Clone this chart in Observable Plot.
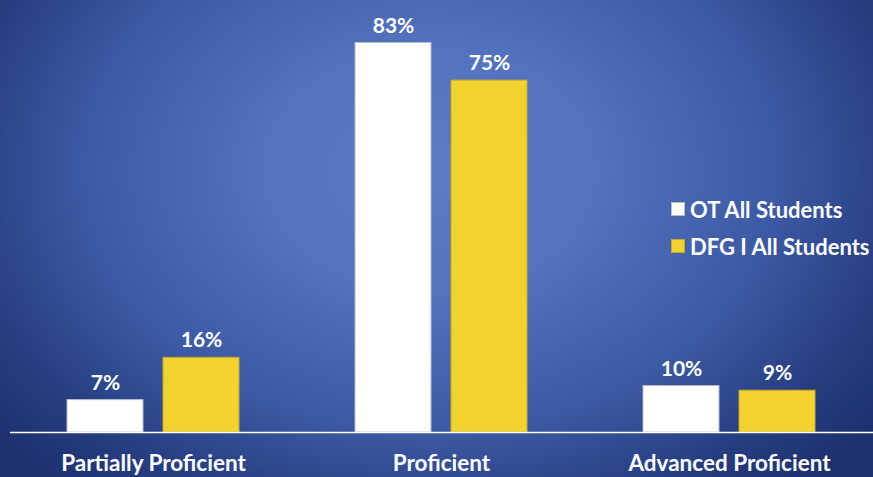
<!DOCTYPE html>
<html>
<head>
<meta charset="utf-8">
<script src="https://cdn.jsdelivr.net/npm/d3@7"></script>
<script src="https://cdn.jsdelivr.net/npm/@observablehq/plot@0.6"></script>
<style>
  html, body { margin: 0; padding: 0; }
  body { width: 873px; height: 477px; overflow: hidden; font-family: Lato, "Open Sans", sans-serif; }
  #wrap {
    position: relative; width: 873px; height: 477px;
    background: radial-gradient(ellipse 560px 420px at 430px 170px, #5c7cc6 0%, #5272bd 30%, #3c59a3 62%, #263d80 85%, #1d3170 100%);
  }
  #legend { position: absolute; left: 671px; top: 197px; color: #fff; font-weight: 700; font-size: 22px; }
  #legend .row { display: flex; align-items: center; height: 24px; margin-bottom: 13px; }
  #legend .sw { width: 14px; height: 14px; margin-right: 5px; box-sizing: border-box; }
</style>
</head>
<body>
<div id="wrap">
  <div id="chart"></div>
  <div id="legend"></div>
</div>
<script>
const categories = ["Partially Proficient", "Proficient", "Advanced Proficient"];
const seriesNames = ["OT All Students", "DFG I All Students"];
const otValues = [7, 83, 10];
const dfgValues = [16, 75, 9];
const seriesColors = ["#ffffff", "#f2d22f"];
const seriesStrokes = ["#b8bcc8", "#c7a82c"];

const data = [];
categories.forEach((c, i) => {
  data.push({category: c, series: seriesNames[0], value: otValues[i]});
  data.push({category: c, series: seriesNames[1], value: dfgValues[i]});
});

const chart = Plot.plot({
  width: 873,
  height: 477,
  marginLeft: 9,
  marginRight: 0,
  marginTop: 42,
  marginBottom: 45,
  style: {background: "transparent", fontFamily: "Lato, 'Open Sans', sans-serif", overflow: "visible"},
  fx: {domain: categories, padding: 0, label: null, axis: null},
  x: {domain: seriesNames, paddingInner: 0.2083, paddingOuter: 0.604, axis: null},
  y: {domain: [0, 83], axis: null},
  color: {domain: seriesNames, range: seriesColors},
  marks: [
    Plot.barY(data, {fx: "category", x: "series", y: "value", fill: "series",
      stroke: d => seriesStrokes[seriesNames.indexOf(d.series)], strokeWidth: 1, insetTop: 0.5, insetBottom: 0}),
    Plot.text(data, {fx: "category", x: "series", y: "value", text: d => d.value + "%",
      lineAnchor: "bottom", dy: -10, fill: "#fff", fontSize: 21, fontWeight: 700}),
    Plot.text(categories.map(c => ({category: c})), {fx: "category", frameAnchor: "bottom",
      text: "category", dy: 38, fill: "#fff", fontSize: 22.5, fontWeight: 700})
  ]
});
document.getElementById("chart").appendChild(chart);

// baseline rule spanning the plot area
const svg = d3.select(chart);
svg.append("line").attr("x1", 10).attr("x2", 873).attr("y1", 432.5).attr("y2", 432.5)
  .attr("stroke", "#fff").attr("stroke-width", 1.5);

const legend = document.getElementById("legend");
seriesNames.forEach((s, i) => {
  const row = document.createElement("div");
  row.className = "row";
  const sw = document.createElement("div");
  sw.className = "sw";
  sw.style.background = seriesColors[i];
  sw.style.border = "1px solid " + seriesStrokes[i];
  const t = document.createElement("span");
  t.textContent = s;
  row.appendChild(sw); row.appendChild(t);
  legend.appendChild(row);
});
</script>
</body>
</html>
